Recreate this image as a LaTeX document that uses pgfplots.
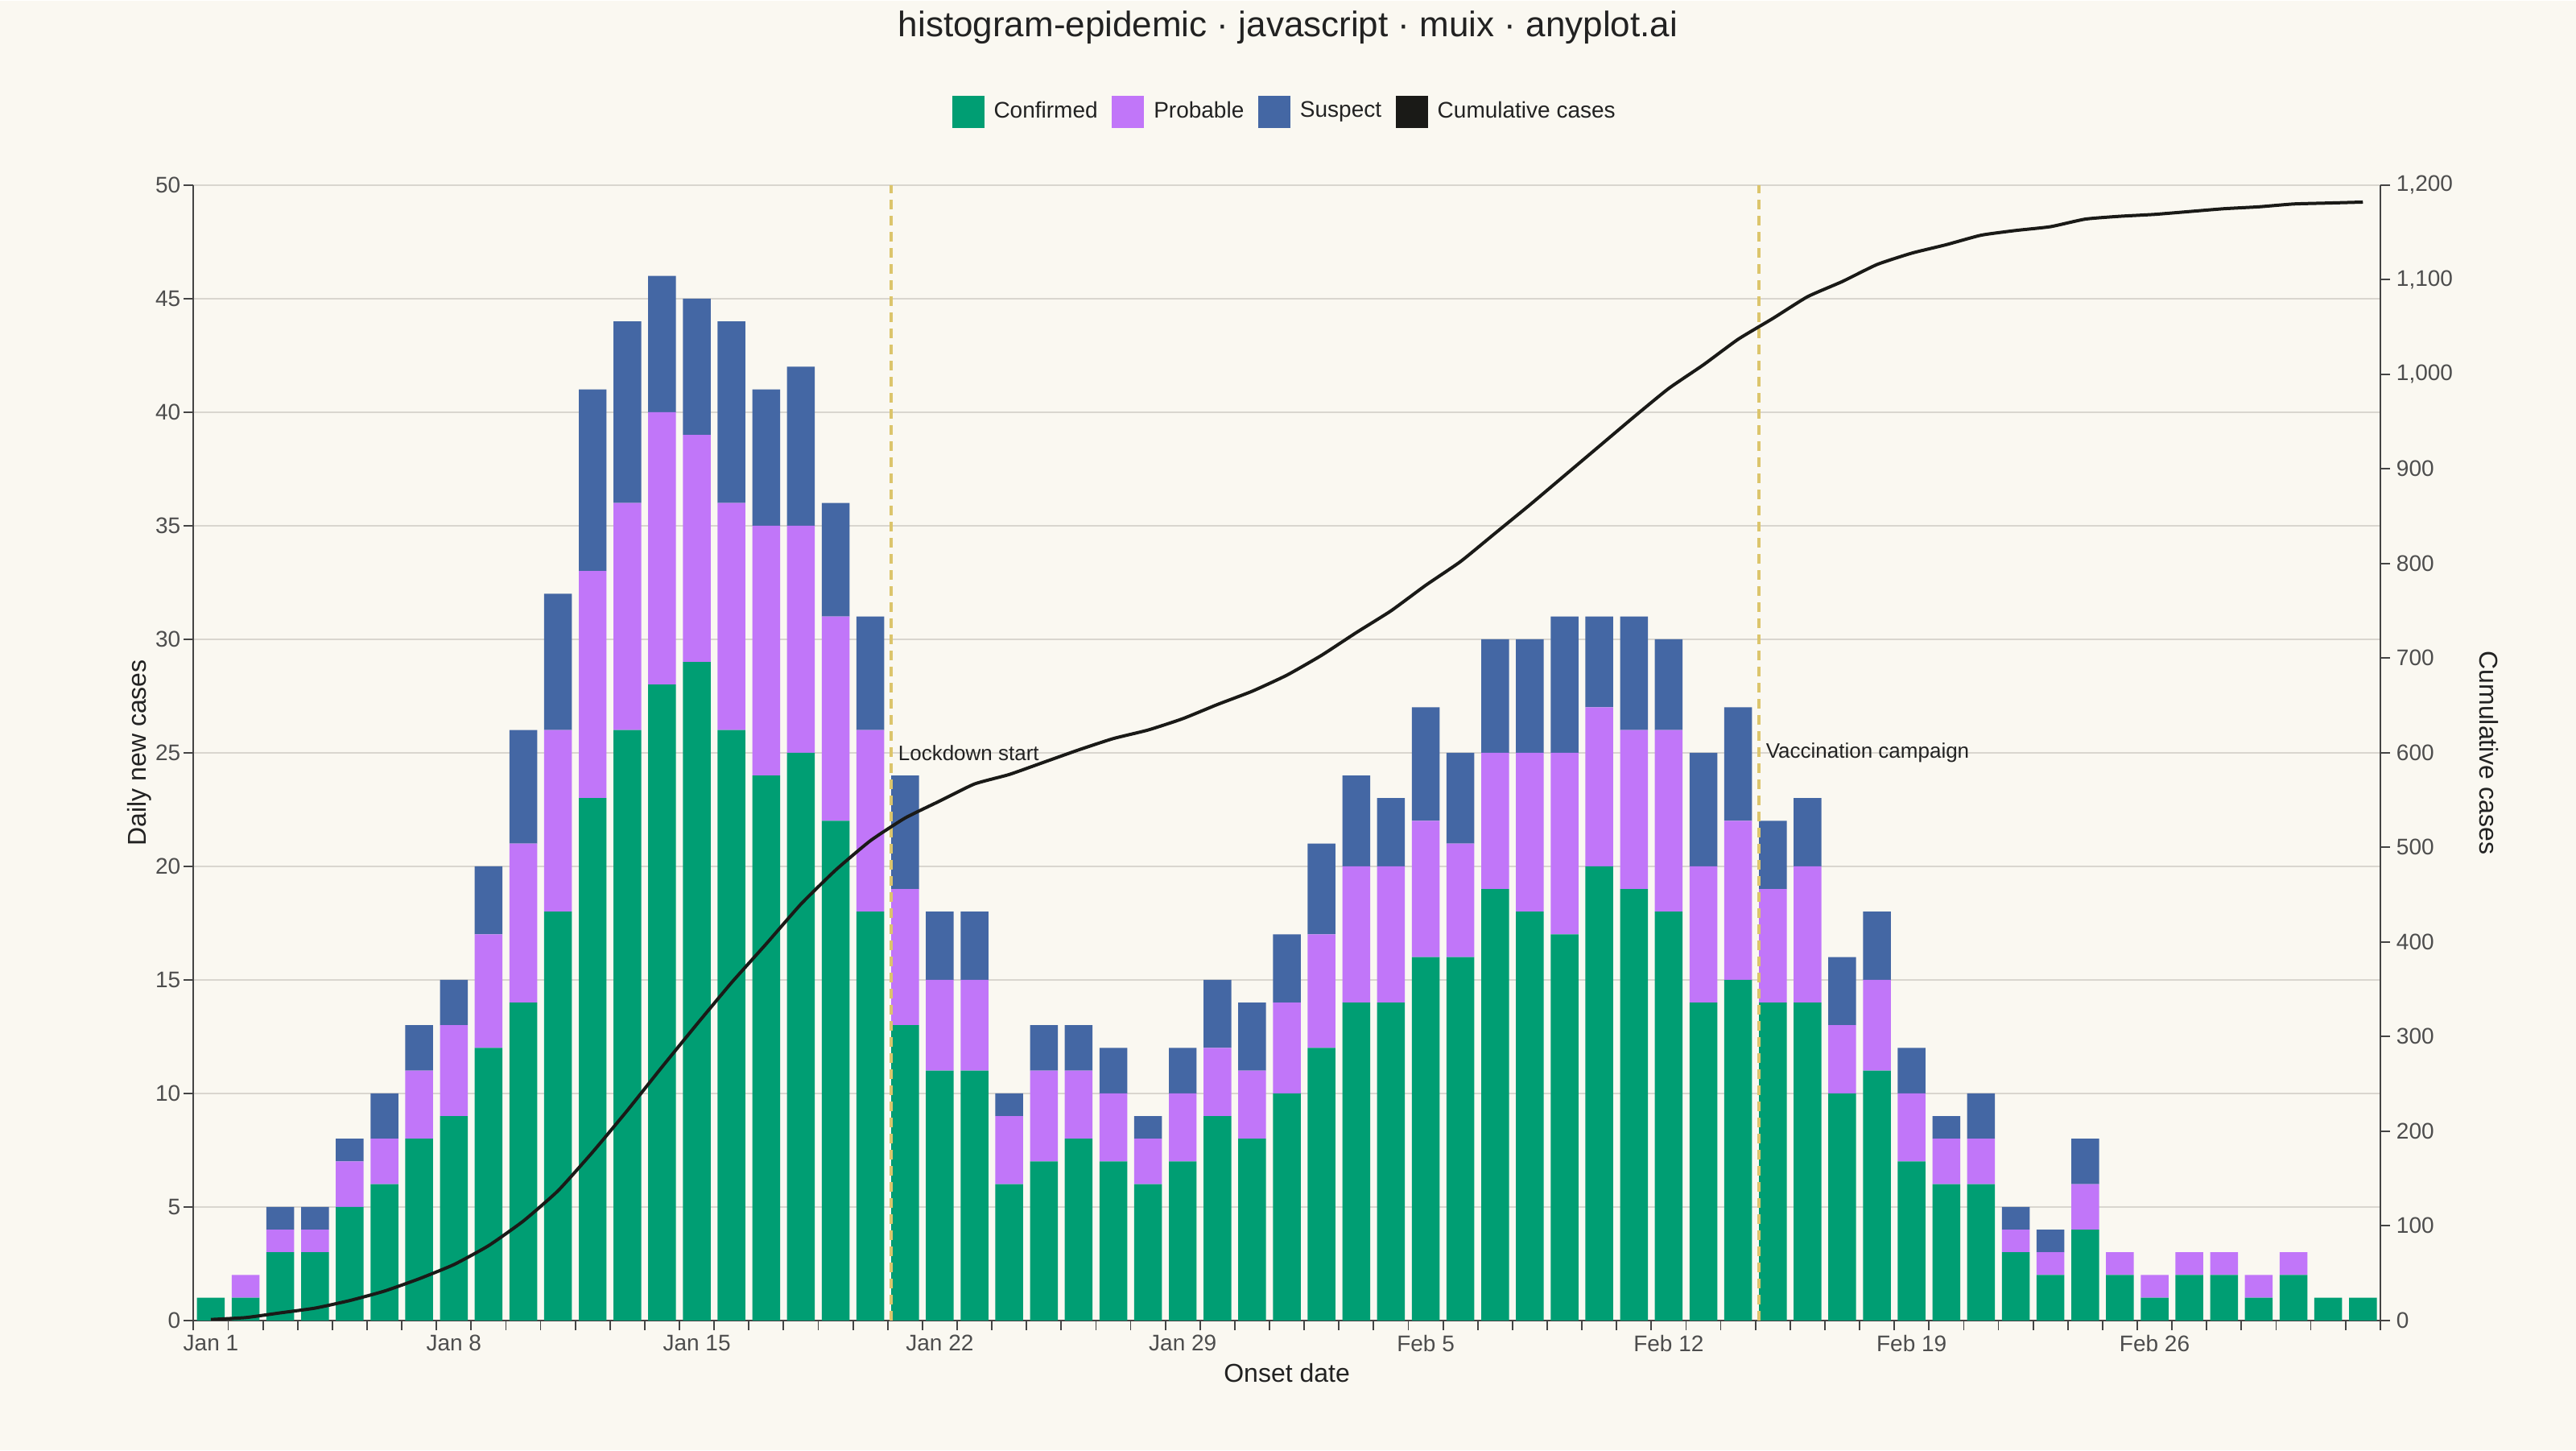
\documentclass[border=0pt]{standalone}
\usepackage{fontspec}
\setmainfont{Liberation Sans}
\usepackage{pgfplots}
\pgfplotsset{compat=1.18}
\usepackage{pgfplotstable}

\definecolor{bg}{HTML}{FAF8F1}
\definecolor{conf}{HTML}{009E73}
\definecolor{prob}{HTML}{C176F9}
\definecolor{susp}{HTML}{4467A4}
\definecolor{cum}{HTML}{1A1A17}
\definecolor{gridc}{HTML}{D9D6CF}
\definecolor{axc}{HTML}{444444}
\definecolor{tickc}{HTML}{4D4D4D}
\definecolor{txt}{HTML}{222222}
\definecolor{marker}{HTML}{DCC56C}

\pgfplotsset{sqlegend/.style={legend image code/.code={\fill[##1] (0pt,-5pt) rectangle (10pt,5pt);}}}

\pgfplotstableread{
day C P S cum
0 1 0 0 1
1 1 1 0 3
2 3 1 1 8
3 3 1 1 13
4 5 2 1 21
5 6 2 2 31
6 8 3 2 44
7 9 4 2 59
8 12 5 3 79
9 14 7 5 105
10 18 8 6 137
11 23 10 8 178
12 26 10 8 222
13 28 12 6 268
14 29 10 6 313
15 26 10 8 357
16 24 11 6 398
17 25 10 7 440
18 22 9 5 476
19 18 8 5 507
20 13 6 5 531
21 11 4 3 549
22 11 4 3 567
23 6 3 1 577
24 7 4 2 590
25 8 3 2 603
26 7 3 2 615
27 6 2 1 624
28 7 3 2 636
29 9 3 3 651
30 8 3 3 665
31 10 4 3 682
32 12 5 4 703
33 14 6 4 727
34 14 6 3 750
35 16 6 5 777
36 16 5 4 802
37 19 6 5 832
38 18 7 5 862
39 17 8 6 893
40 20 7 4 924
41 19 7 5 955
42 18 8 4 985
43 14 6 5 1010
44 15 7 5 1037
45 14 5 3 1059
46 14 6 3 1082
47 10 3 3 1098
48 11 4 3 1116
49 7 3 2 1128
50 6 2 1 1137
51 6 2 2 1147
52 3 1 1 1152
53 2 1 1 1156
54 4 2 2 1164
55 2 1 0 1167
56 1 1 0 1169
57 2 1 0 1172
58 2 1 0 1175
59 1 1 0 1177
60 2 1 0 1180
61 1 0 0 1181
62 1 0 0 1182
}\data

\begin{document}
\begin{tikzpicture}
\fill[bg] (0,0) rectangle (800pt,450pt);
\node[font=\fontsize{11}{13}\selectfont, text=txt] at (400pt,441.8pt) {histogram-epidemic · javascript · muix · anyplot.ai};

\begin{axis}[
  at={(60.1pt,40.3pt)}, anchor=south west,
  width=679.1pt, height=352.5pt, scale only axis,
  xmin=-0.5, xmax=62.5, ymin=0, ymax=50,
  ybar stacked, bar width=0.8,
  axis x line*=bottom, axis y line*=left,
  x axis line style={-, draw=axc, line width=0.45pt},
  y axis line style={-, draw=axc, line width=0.45pt},
  tick align=outside,
  major tick length=3pt,
  tick style={draw=axc, line width=0.45pt},
  xtick={-0.5,0.5,...,62.5}, xticklabels={},
  extra x ticks={0,7,14,21,28,35,42,49,56},
  extra x tick labels={Jan 1,Jan 8,Jan 15,Jan 22,Jan 29,Feb 5,Feb 12,Feb 19,Feb 26},
  extra x tick style={major tick length=0pt, tick style={draw=none}},
  ytick={0,5,...,50},
  ymajorgrids, grid style={draw=gridc, line width=0.4pt},
  /pgf/number format/assume math mode=true,
  ticklabel style={font=\fontsize{7}{8}\selectfont, text=tickc},
  xticklabel style={yshift=-1pt},
  yticklabel style={xshift=2.5pt},
  xlabel={Onset date}, ylabel={Daily new cases},
  label style={font=\fontsize{8}{9}\selectfont, text=txt},
  xlabel style={at={(axis description cs:0.5,0)}, anchor=center, yshift=-16.3pt},
  ylabel style={at={(axis description cs:-0.02459,0.5)}, anchor=center},
  legend style={at={(0.5,1.0644)}, anchor=center, draw=none, fill=none,
    font=\fontsize{7}{8}\selectfont, text=txt,
    /tikz/every even column/.append style={column sep=2.4pt},
    /tikz/every odd column/.append style={column sep=1pt}},
  legend columns=-1,
]
\addplot[fill=conf, draw=none, sqlegend] table[x=day,y=C]{\data};
\addlegendentry{Confirmed}
\addplot[fill=prob, draw=none, sqlegend] table[x=day,y=P]{\data};
\addlegendentry{Probable}
\addplot[fill=susp, draw=none, sqlegend] table[x=day,y=S]{\data};
\addlegendentry{Suspect}
\addlegendimage{fill=cum, draw=none, sqlegend}
\addlegendentry{Cumulative cases}
\end{axis}

\begin{axis}[
  at={(60.1pt,40.3pt)}, anchor=south west,
  width=679.1pt, height=352.5pt, scale only axis,
  xmin=-0.5, xmax=62.5, ymin=0, ymax=1200,
  axis x line=none, axis y line*=right,
  y axis line style={-, draw=axc, line width=0.45pt},
  tick align=outside,
  major tick length=3pt,
  tick style={draw=axc, line width=0.45pt},
  ytick={0,100,...,1200},
  /pgf/number format/.cd, 1000 sep={,}, assume math mode=true, /pgfplots/.cd,
  yticklabel style={font=\fontsize{7}{8}\selectfont, text=tickc, xshift=-1.5pt},
  ylabel={Cumulative cases},
  ylabel style={font=\fontsize{8}{9}\selectfont, text=txt, at={(axis description cs:1.04977,0.5)}, anchor=center, rotate=180},
]
\addplot[marker, line width=1pt, dash pattern=on 3pt off 2pt, forget plot] coordinates {(19.6,0) (19.6,1200)};
\addplot[marker, line width=1pt, dash pattern=on 3pt off 2pt, forget plot] coordinates {(44.6,0) (44.6,1200)};
\addplot[cum, line width=1pt, smooth, tension=0.3] table[x=day,y=cum]{\data};
\node[anchor=west, inner sep=0pt, xshift=2pt, font=\fontsize{6.5}{7.5}\selectfont, text=txt] at (axis cs:19.6,600) {Lockdown start};
\node[anchor=west, inner sep=0pt, xshift=2pt, font=\fontsize{6.5}{7.5}\selectfont, text=txt] at (axis cs:44.6,600) {Vaccination campaign};
\end{axis}
\end{tikzpicture}
\end{document}
